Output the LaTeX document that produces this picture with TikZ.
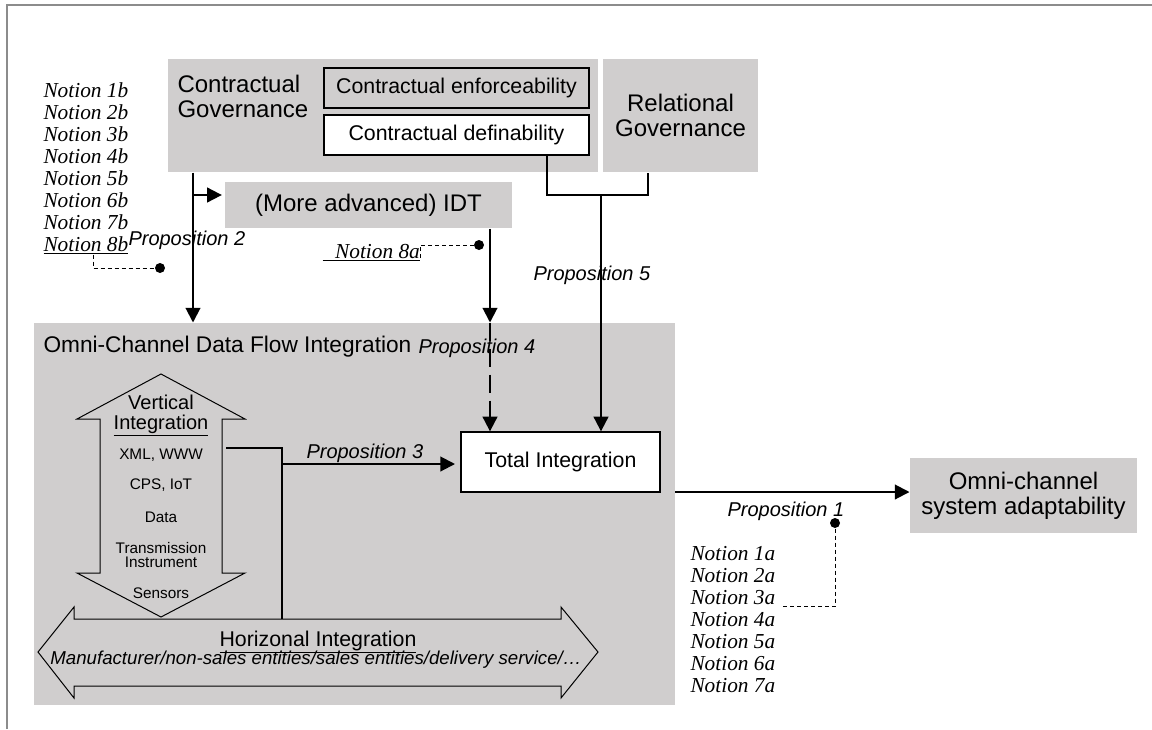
\documentclass[tikz,border=0pt]{standalone}
\usepackage{fontspec}
\setmainfont{Liberation Serif}
\setsansfont{Liberation Sans}
\usetikzlibrary{arrows.meta}

\definecolor{boxgray}{RGB}{208,206,206}
\definecolor{framegray}{RGB}{140,140,140}

\tikzset{every picture/.style={line width=0.75pt}}
\tikzset{
  wh/.style 2 args={minimum width=#1*0.75pt,minimum height=#2*0.75pt},
  govbox/.style={rectangle,fill=boxgray,inner sep=0pt,align=center,font=\sffamily\fontsize{18}{18.75}\selectfont},
  subbox/.style={rectangle,draw=black,line width=1pt,inner sep=0pt,font=\sffamily\fontsize{16}{19}\selectfont},
  prop/.style={font=\sffamily\itshape\fontsize{15}{18}\selectfont,inner sep=0pt},
  notion/.style={font=\rmfamily\itshape\fontsize{16}{16.5}\selectfont,inner sep=0pt,align=left},
  vhead/.style={font=\sffamily\fontsize{15}{16}\selectfont,inner sep=0pt},
  vitem/.style={font=\sffamily\fontsize{11.5}{10}\selectfont,inner sep=0pt,align=center},
  link/.style={line width=1.5pt},
  arr/.style={-{Triangle[length=11pt,width=11pt]}},
  notelink/.style={line width=0.75pt,dash pattern=on 3pt off 2.25pt},
  dot/.style={circle,fill=black,inner sep=0pt,minimum size=7.5pt},
}

\begin{document}
\begin{tikzpicture}[x=0.75pt,y=0.75pt,yscale=-1,xscale=1]
\useasboundingbox (0,0) rectangle (1152,729);

%Frame
\draw[framegray,line width=1.5pt] (7,729) -- (7,5) -- (1152,5);

%Shape: Rectangle -- contractual governance
\node[govbox,wh={430}{113}] (cgov) at (383,115.5) {};
% Text Node
\node[govbox,fill=none,anchor=west,align=left] (cgovtxt) at (177,96) {Contractual\\Governance};
%Shape: Rectangle
\node[subbox,fill=boxgray,wh={265}{40}] (cenf) at (456.5,88) {Contractual enforceability};
%Shape: Rectangle
\node[subbox,fill=white,wh={265}{40}] (cdef) at (456.5,135) {Contractual definability};
%Shape: Rectangle -- relational governance
\node[govbox,wh={155}{113}] (rgov) at (680.5,115.5) {Relational\\Governance};
%Shape: Rectangle -- IDT
\node[govbox,wh={287}{46}] (idt) at (368.5,205) {(More advanced) IDT};

%Shape: Rectangle -- data flow integration
\node[govbox,wh={641}{382}] (ocdf) at (354.5,514) {};
% Text Node
\node[govbox,fill=none,anchor=west,font=\sffamily\fontsize{17}{18}\selectfont] (ocdftxt) at (43,347) {Omni-Channel Data Flow Integration};
%Shape: Rectangle
\node[subbox,fill=white,wh={199}{60}] (tint) at (560.5,462) {Total Integration};
%Shape: Rectangle -- adaptability
\node[govbox,wh={227}{75}] (osa) at (1023.5,495.5) {Omni-channel\\system adaptability};

%Shape: Up Down Arrow
\draw (161,374) -- (245,419) -- (222,419) -- (222,573) -- (245,573) -- (161,617) -- (77,573) -- (100,573) -- (100,419) -- (77,419) -- cycle;
%Shape: Left Right Arrow
\draw (38,652) -- (74,607) -- (74,619) -- (561,619) -- (561,607) -- (598,652) -- (561,698) -- (561,686) -- (74,686) -- (74,698) -- cycle;

% Text Node
\node[vhead,anchor=base] (vt1) at (161,409) {Vertical};
% Text Node
\node[vhead,anchor=base] (vt2) at (161,429) {\underline{Integration}};
% Text Node
\node[vitem] (vxml) at (161,455) {XML, WWW};
% Text Node
\node[vitem] (vcps) at (161,485) {CPS, IoT};
% Text Node
\node[vitem] (vdata) at (161,517) {Data};
% Text Node
\node[vitem] (vtrans) at (161,555) {Transmission\\Instrument};
% Text Node
\node[vitem] (vsens) at (161,593) {Sensors};
% Text Node
\node[font=\sffamily\fontsize{16}{18}\selectfont,inner sep=0pt,anchor=base] (ht1) at (318,646) {\underline{Horizonal Integration}};
% Text Node
\node[font=\sffamily\itshape\fontsize{14}{16}\selectfont,inner sep=0pt,anchor=base] (ht2) at (316,664) {Manufacturer/non-sales entities/sales entities/delivery service/…};

% Text Node
\node[notion,anchor=north west] (nb) at (43,82) {Notion 1b\\Notion 2b\\Notion 3b\\Notion 4b\\Notion 5b\\Notion 6b\\Notion 7b\\\underline{Notion 8b}};
% Text Node
\node[notion,anchor=base west] (n8a) at (322,258) {\underline{\hspace{9.5pt}Notion 8a}};
% Text Node
\node[notion,anchor=north west] (na) at (690,546) {Notion 1a\\Notion 2a\\Notion 3a\\Notion 4a\\Notion 5a\\Notion 6a\\Notion 7a};

% Text Node
\node[prop,anchor=west] (p2) at (128,240) {Proposition 2};
% Text Node
\node[prop,anchor=west] (p5) at (533,275) {Proposition 5};
% Text Node
\node[prop,anchor=west] (p4) at (418,348) {Proposition 4};
% Text Node
\node[prop,anchor=west] (p3) at (306,453) {Proposition 3};
% Text Node
\node[prop,anchor=west] (p1) at (727,511) {Proposition 1};

%Dots
\node[dot] (d8b) at (160,268) {};
\node[dot] (d8a) at (479,245) {};
\node[dot] (d1) at (835,523) {};

\coordinate (c2) at (193,195);
\coordinate (c4) at (490,0);
\coordinate (c5) at (601,195);
\coordinate (c5a) at (547,0);
\coordinate (c5b) at (648,0);
\coordinate (vr) at (226,448);
\coordinate (c3) at (282,448);
\coordinate (c3b) at (282,464);
\coordinate (ht) at (0,619);
\coordinate (c1) at (675,492);
\coordinate (c8b) at (93,268);
\coordinate (c1n) at (783,606);

%Straight Lines -- proposition 2
\draw[link,arr] (cgov.south -| c2) -- (ocdf.north -| c2);
\draw[link,arr,shorten >=2pt] (c2) -- (c2 -| idt.west);
%Straight Lines -- proposition 4
\draw[link,arr] (idt.south -| c4) -- (ocdf.north -| c4);
\draw[link,arr,dash pattern=on 13.5pt off 6pt] (ocdf.north -| c4) -- (tint.north -| c4);
%Straight Lines -- proposition 5
\draw[link] (cdef.south -| c5a) |- (c5) -| (rgov.south -| c5b);
\draw[link,arr] (c5) -- (tint.north -| c5);
%Straight Lines -- proposition 3
\draw[link] (vr) -- (c3) -- (c3 |- ht);
\draw[link,arr,shorten >=4pt] (c3b) -- (c3b -| tint.west);
%Straight Lines -- proposition 1
\draw[link,arr] (c1) -- (c1 -| osa.west);

%Dashed notes
\draw[notelink] (nb.south -| c8b) -- (c8b) -- (d8b);
\draw[notelink] (n8a.base east) |- (d8a);
\draw[notelink] (d1) |- (c1n);

\end{tikzpicture}
\end{document}
